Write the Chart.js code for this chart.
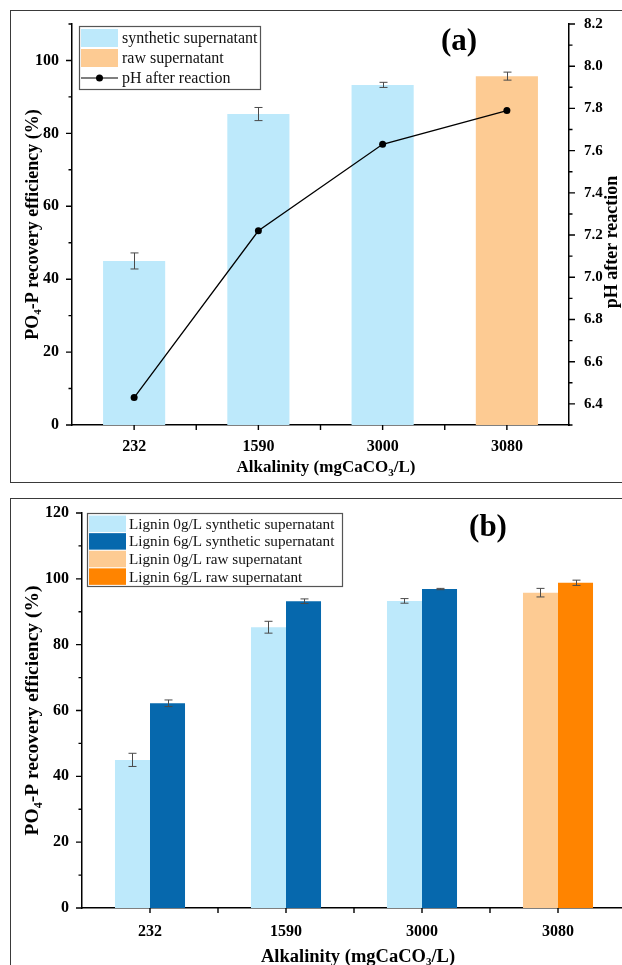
<!DOCTYPE html>
<html><head><meta charset="utf-8">
<script src="https://cdn.jsdelivr.net/npm/chart.js@4.4.1/dist/chart.umd.min.js"></script>
<style>
html,body{margin:0;padding:0;background:#fff;width:622px;height:965px;overflow:hidden;position:relative}
.panel{position:absolute;border:1.5px solid #3a3a3a;box-sizing:border-box}
#pa{left:10px;top:10px;width:700px;height:473px}
#pb{left:10px;top:498px;width:700px;height:600px}
.wrap{position:absolute;left:0}
#wa{top:0;width:622px;height:490px}
#wb{top:490px;width:650px;height:475px}
</style></head><body>
<div class="panel" id="pa"></div><div class="panel" id="pb"></div>
<div class="wrap" id="wa"><canvas id="ca" width="622" height="490"></canvas></div>
<div class="wrap" id="wb"><canvas id="cb" width="650" height="475"></canvas></div>
<script>
// ---------- data ----------
const categories = ['232', '1590', '3000', '3080'];
// panel (a)
const recoverySynthetic = [45.0, 85.3, 93.3, null];
const recoverySyntheticErr = [2.2, 1.8, 0.7, null];
const recoveryRaw = [null, null, null, 95.7];
const recoveryRawErr = [null, null, null, 1.1];
const phAfterReaction = [6.43, 7.22, 7.63, 7.79];
// panel (b)
const lignin0Synthetic = [45.0, 85.3, 93.3, null];
const lignin0SyntheticErr = [2.0, 1.8, 0.7, null];
const lignin6Synthetic = [62.2, 93.2, 96.9, null];
const lignin6SyntheticErr = [1.0, 0.7, 0.2, null];
const lignin0Raw = [null, null, null, 95.8];
const lignin0RawErr = [null, null, null, 1.3];
const lignin6Raw = [null, null, null, 98.8];
const lignin6RawErr = [null, null, null, 0.8];
// ticks
const leftTicksA = [0, 20, 40, 60, 80, 100];
const leftMinorA = [10, 30, 50, 70, 90, 110];
const phTicks = [6.4, 6.6, 6.8, 7.0, 7.2, 7.4, 7.6, 7.8, 8.0, 8.2];
const phMinor = [6.3, 6.5, 6.7, 6.9, 7.1, 7.3, 7.5, 7.7, 7.9, 8.1];
const leftTicksB = [0, 20, 40, 60, 80, 100, 120];
const leftMinorB = [10, 30, 50, 70, 90, 110];

const COL_SYN0 = '#bde9fb', COL_RAW0 = '#fdcb93', COL_SYN6 = '#0668ad', COL_RAW6 = '#ff8400';
const SERIF = '"Liberation Serif", "Times New Roman", serif';

// ---------- helpers ----------
function drawRich(ctx, parts, x, y, size, rot) {
  ctx.save();
  ctx.translate(x, y);
  if (rot) ctx.rotate(rot);
  ctx.fillStyle = '#000';
  ctx.textBaseline = 'middle';
  ctx.textAlign = 'left';
  const subSize = Math.round(size * 0.62);
  let total = 0;
  const widths = parts.map(p => {
    ctx.font = 'bold ' + (p[1] ? subSize : size) + 'px ' + SERIF;
    const w = ctx.measureText(p[0]).width; total += w; return w;
  });
  let cx = -total / 2;
  parts.forEach((p, i) => {
    ctx.font = 'bold ' + (p[1] ? subSize : size) + 'px ' + SERIF;
    ctx.fillText(p[0], cx, p[1] ? size * 0.3 : 0);
    cx += widths[i];
  });
  ctx.restore();
}

function tickMarks(ctx, scale, values, len, dir) {
  ctx.beginPath();
  values.forEach(v => {
    const p = scale.getPixelForValue(v);
    if (dir === 'left') { ctx.moveTo(scale.right, p); ctx.lineTo(scale.right - len, p); }
    else if (dir === 'right') { ctx.moveTo(scale.left, p); ctx.lineTo(scale.left + len, p); }
    else { ctx.moveTo(p, scale.top); ctx.lineTo(p, scale.top + len); }
  });
  ctx.stroke();
}

const decorPlugin = {
  id: 'decor',
  afterDatasetsDraw(chart) {
    const ctx = chart.ctx;
    // error bars
    ctx.save();
    ctx.strokeStyle = '#4a4a4a';
    ctx.lineWidth = 1;
    chart.data.datasets.forEach((ds, di) => {
      if (!ds.errors) return;
      const meta = chart.getDatasetMeta(di);
      const ys = chart.scales[meta.yAxisID];
      ds.data.forEach((v, i) => {
        if (v == null || ds.errors[i] == null) return;
        const el = meta.data[i];
        const x = Math.round(el.x) + 0.5;
        const yt = ys.getPixelForValue(v + ds.errors[i]);
        const yb = ys.getPixelForValue(v - ds.errors[i]);
        ctx.beginPath();
        ctx.moveTo(x, yt); ctx.lineTo(x, yb);
        ctx.moveTo(x - 4, yt); ctx.lineTo(x + 4, yt);
        ctx.moveTo(x - 4, yb); ctx.lineTo(x + 4, yb);
        ctx.stroke();
      });
    });
    ctx.restore();
  },
  afterDraw(chart, args, o) {
    const ctx = chart.ctx;
    ctx.save();
    ctx.strokeStyle = '#000';
    ctx.lineWidth = 1.4;
    // tick marks
    const xs = chart.scales.x;
    const n = categories.length;
    const xt = [];
    for (let i = 0; i < n; i++) xt.push(i);
    tickMarks(ctx, xs, xt, 5, 'down');
    ctx.beginPath();
    for (let i = 1; i < n; i++) {
      const p = (xs.getPixelForValue(i - 1) + xs.getPixelForValue(i)) / 2;
      ctx.moveTo(p, xs.top); ctx.lineTo(p, xs.top + 5);
    }
    ctx.stroke();
    tickMarks(ctx, chart.scales.y, o.yMajor, 6, 'left');
    tickMarks(ctx, chart.scales.y, o.yMinor, 3.5, 'left');
    if (chart.scales.y2) {
      tickMarks(ctx, chart.scales.y2, phTicks, 6, 'right');
      tickMarks(ctx, chart.scales.y2, phMinor, 3.5, 'right');
    }
    ctx.restore();

    // axis titles
    const ca = chart.chartArea;
    drawRich(ctx, [['PO', 0], ['4', 1], ['-P recovery efficiency (%)', 0]], o.yTitleX, (ca.top + ca.bottom) / 2, o.yTitleSize, -Math.PI / 2);
    drawRich(ctx, [['Alkalinity (mgCaCO', 0], ['3', 1], ['/L)', 0]], o.xTitleX, o.xTitleY, o.xTitleSize, 0);
    if (o.y2Title) drawRich(ctx, [[o.y2Title, 0]], o.y2TitleX, o.y2TitleY, o.yTitleSize, -Math.PI / 2);

    // panel letter
    ctx.save();
    ctx.font = 'bold 31px ' + SERIF;
    ctx.fillStyle = '#000';
    ctx.textAlign = 'center';
    ctx.textBaseline = 'middle';
    ctx.fillText(o.letter, o.letterX, o.letterY);
    ctx.restore();

    // legend box
    const L = o.legend;
    ctx.save();
    ctx.fillStyle = '#fff';
    ctx.fillRect(L.x, L.y, L.w, L.h);
    ctx.strokeStyle = '#555';
    ctx.lineWidth = 1.2;
    ctx.strokeRect(L.x + 0.5, L.y + 0.5, L.w, L.h);
    ctx.font = L.font + 'px ' + SERIF;
    ctx.textBaseline = 'middle';
    ctx.textAlign = 'left';
    chart.data.datasets.forEach((ds, i) => {
      const cy = L.y + 2 + L.rowH * (i + 0.5);
      if (ds.type === 'line') {
        ctx.strokeStyle = '#000';
        ctx.lineWidth = 1.2;
        ctx.beginPath();
        ctx.moveTo(L.x + L.sx, cy); ctx.lineTo(L.x + L.sx + L.sw, cy); ctx.stroke();
        ctx.fillStyle = '#000';
        ctx.beginPath(); ctx.arc(L.x + L.sx + L.sw / 2, cy, 3.5, 0, Math.PI * 2); ctx.fill();
      } else {
        ctx.fillStyle = ds.backgroundColor;
        ctx.fillRect(L.x + L.sx, cy - L.sh / 2, L.sw, L.sh);
      }
      ctx.fillStyle = '#111';
      ctx.fillText(ds.label, L.x + L.tx, cy + 1);
    });
    ctx.restore();
  }
};

const tickFont = { family: SERIF, size: 16, weight: 'bold' };

// ---------- chart (a) ----------
new Chart(document.getElementById('ca'), {
  type: 'bar',
  data: {
    labels: categories,
    datasets: [
      { label: 'synthetic supernatant', data: recoverySynthetic, errors: recoverySyntheticErr,
        backgroundColor: COL_SYN0, skipNull: true, order: 2, yAxisID: 'y' },
      { label: 'raw supernatant', data: recoveryRaw, errors: recoveryRawErr,
        backgroundColor: COL_RAW0, skipNull: true, order: 2, yAxisID: 'y' },
      { type: 'line', label: 'pH after reaction', data: phAfterReaction, yAxisID: 'y2',
        borderColor: '#000', backgroundColor: '#000', borderWidth: 1.3, pointRadius: 3.5,
        pointBackgroundColor: '#000', pointBorderWidth: 0, tension: 0, order: 0 }
    ]
  },
  options: {
    responsive: false, animation: false,
    categoryPercentage: 0.5, barPercentage: 1,
    layout: { padding: { top: 23, left: 0, right: 0, bottom: 0 } },
    plugins: {
      legend: { display: false }, tooltip: { enabled: false },
      decor: {
        yMajor: leftTicksA, yMinor: leftMinorA,
        yTitleX: 33, xTitleX: 326, xTitleY: 468, xTitleSize: 17, yTitleSize: 18,
        y2Title: 'pH after reaction', y2TitleX: 612, y2TitleY: 242,
        letter: '(a)', letterX: 459, letterY: 42,
        legend: { x: 79, y: 26, w: 181, h: 63, rowH: 20, sx: 2, sw: 37, sh: 18, tx: 43, font: 16 }
      }
    },
    scales: {
      x: {
        grid: { display: false, drawTicks: false },
        border: { display: true, color: '#000', width: 1.5 },
        ticks: { font: tickFont, color: '#000', padding: 12 },
        afterFit(s) { s.height = 65; }
      },
      y: {
        position: 'left', min: 0, max: 110,
        afterBuildTicks(s) { s.ticks = leftTicksA.map(v => ({ value: v })); },
        grid: { display: false, drawTicks: false },
        border: { display: true, color: '#000', width: 1.5 },
        ticks: { font: tickFont, color: '#000', padding: 13 },
        afterFit(s) { s.width = 72; }
      },
      y2: {
        position: 'right', min: 6.3, max: 8.2,
        afterBuildTicks(s) { s.ticks = phTicks.map(v => ({ value: v })); },
        grid: { display: false, drawTicks: false },
        border: { display: true, color: '#000', width: 1.5 },
        ticks: { font: { family: SERIF, size: 15, weight: 'bold' }, color: '#000', padding: 15,
                 callback: v => Number(v).toFixed(1) },
        afterFit(s) { s.width = 53; }
      }
    }
  },
  plugins: [decorPlugin]
});

// ---------- chart (b) ----------
new Chart(document.getElementById('cb'), {
  type: 'bar',
  data: {
    labels: categories,
    datasets: [
      { label: 'Lignin 0g/L synthetic supernatant', data: lignin0Synthetic, errors: lignin0SyntheticErr,
        backgroundColor: COL_SYN0, skipNull: true },
      { label: 'Lignin 6g/L synthetic supernatant', data: lignin6Synthetic, errors: lignin6SyntheticErr,
        backgroundColor: COL_SYN6, skipNull: true },
      { label: 'Lignin 0g/L raw supernatant', data: lignin0Raw, errors: lignin0RawErr,
        backgroundColor: COL_RAW0, skipNull: true },
      { label: 'Lignin 6g/L raw supernatant', data: lignin6Raw, errors: lignin6RawErr,
        backgroundColor: COL_RAW6, skipNull: true }
    ]
  },
  options: {
    responsive: false, animation: false,
    categoryPercentage: 0.515, barPercentage: 1,
    layout: { padding: { top: 23, left: 0, right: 24, bottom: 0 } },
    plugins: {
      legend: { display: false }, tooltip: { enabled: false },
      decor: {
        yMajor: leftTicksB, yMinor: leftMinorB,
        yTitleX: 33, xTitleX: 358, xTitleY: 467, xTitleSize: 18.5, yTitleSize: 19.5,
        letter: '(b)', letterX: 488, letterY: 38,
        legend: { x: 87, y: 23, w: 255, h: 73, rowH: 17.6, sx: 2, sw: 37, sh: 16.5, tx: 42, font: 15.2 }
      }
    },
    scales: {
      x: {
        grid: { display: false, drawTicks: false },
        border: { display: true, color: '#000', width: 1.5 },
        ticks: { font: tickFont, color: '#000', padding: 14 },
        afterFit(s) { s.height = 57; }
      },
      y: {
        position: 'left', min: 0, max: 120,
        afterBuildTicks(s) { s.ticks = leftTicksB.map(v => ({ value: v })); },
        grid: { display: false, drawTicks: false },
        border: { display: true, color: '#000', width: 1.5 },
        ticks: { font: tickFont, color: '#000', padding: 13 },
        afterFit(s) { s.width = 82; }
      }
    }
  },
  plugins: [decorPlugin]
});
</script>
</body></html>
